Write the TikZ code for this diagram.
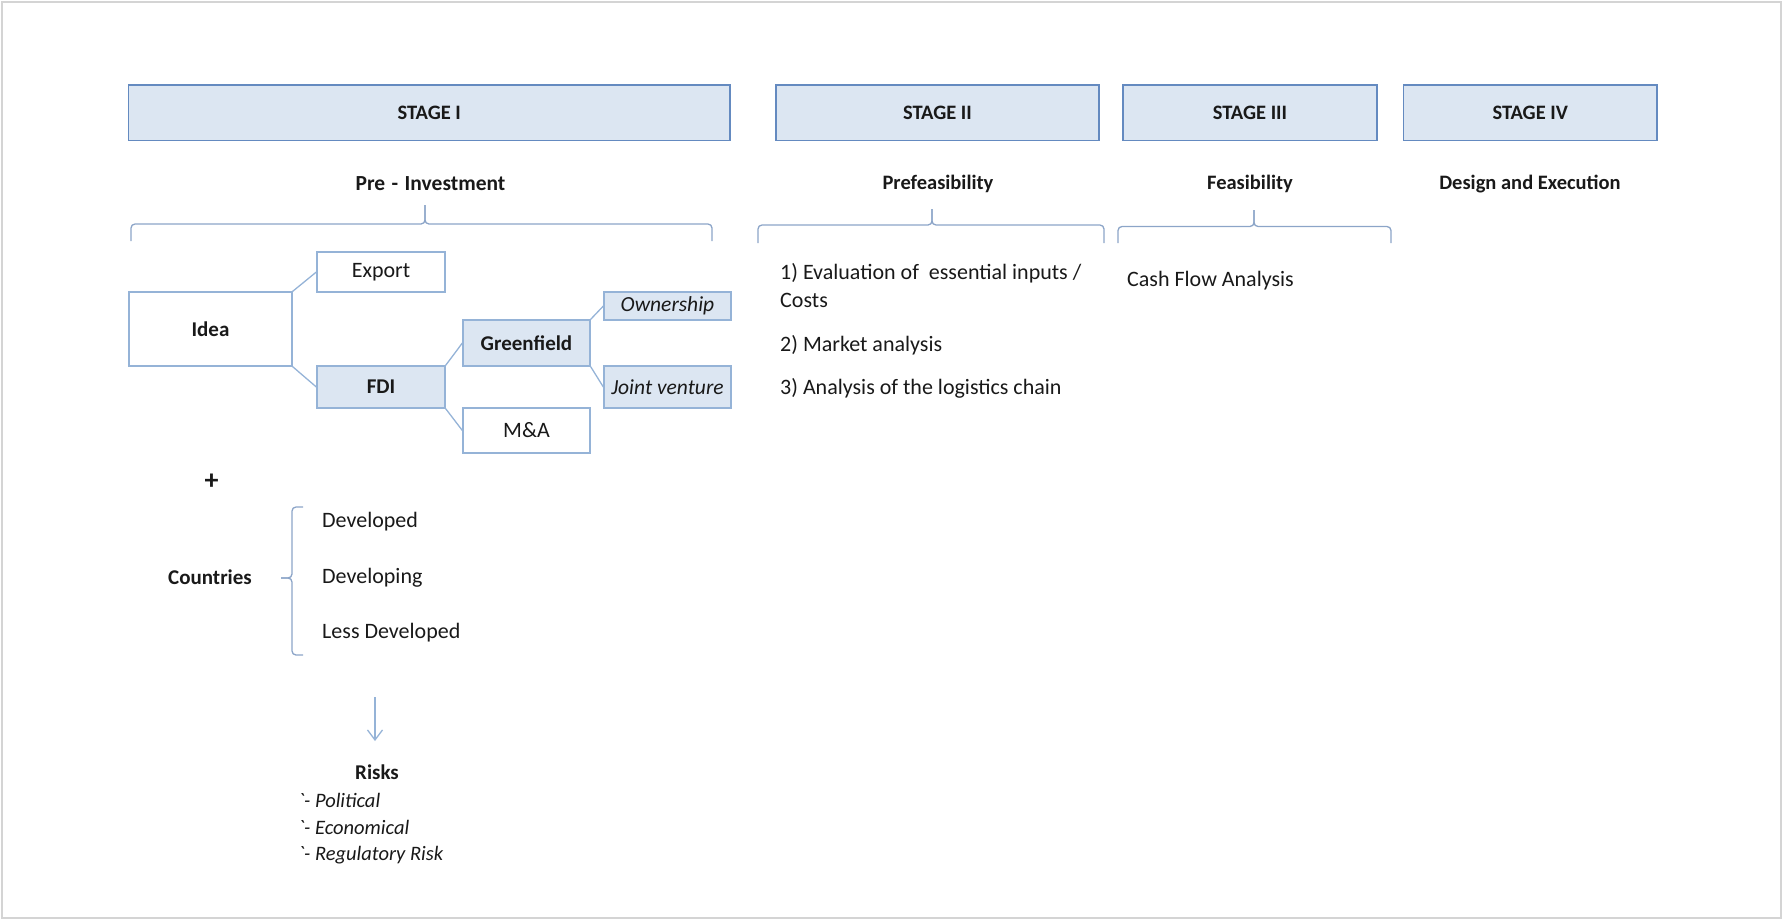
\documentclass[tikz,border=0pt]{standalone}
\usepackage{fontspec}
\setmainfont{Carlito}
\newfontfamily\rawfont{Carlito}[Ligatures=TeXOff]
\usetikzlibrary{arrows.meta}
\definecolor{stagefill}{RGB}{220,230,242}
\definecolor{stageline}{RGB}{100,138,192}
\definecolor{boxline}{RGB}{149,179,215}
\definecolor{bracecol}{RGB}{140,165,200}
\definecolor{framecol}{RGB}{212,212,212}
\definecolor{txt}{RGB}{25,25,25}
\begin{document}
\begin{tikzpicture}[x=1pt,y=-1pt,
  every node/.style={text=txt, font=\fontsize{22}{26}\selectfont, inner sep=0pt},
  stagebox/.style={draw=stageline, fill=stagefill, line width=1.6pt, font=\fontsize{20.5}{24}\selectfont\bfseries},
  plainbox/.style={draw=boxline, fill=white, line width=1.3pt},
  shadebox/.style={draw=boxline, fill=stagefill, line width=1.3pt},
  conn/.style={draw=boxline, line width=1.3pt},
  bracel/.style={draw=bracecol, line width=1.3pt, rounded corners=4pt},
  heading/.style={font=\fontsize{20.5}{24}\selectfont\bfseries},
  boldtxt/.style={font=\fontsize{21}{25}\selectfont\bfseries},
  risktxt/.style={anchor=west, font=\rawfont\fontsize{20.5}{24}\selectfont\itshape},
  ltext/.style={anchor=west},
]
\useasboundingbox (0,0) rectangle (1783,922);
\draw[framecol, line width=1.5pt] (2,2) rectangle (1781,918);

% stage boxes
\node[stagebox, minimum width=601.5pt, minimum height=55.5pt] (s1) at (429.25,112.75) {STAGE I};
\node[stagebox, minimum width=323pt, minimum height=55.5pt] (s2) at (937.5,112.75) {STAGE II};
\node[stagebox, minimum width=254pt, minimum height=55.5pt] (s3) at (1250,112.75) {STAGE III};
\node[stagebox, minimum width=253.5pt, minimum height=55.5pt] (s4) at (1530.25,112.75) {STAGE IV};

% headings
\node[heading, font=\fontsize{21.5}{25}\selectfont\bfseries] (h1) at (430.5,184) {Pre\hspace{0.3em}-\hspace{0.3em}Investment};
\node[heading] (h2) at (938,184) {Prefeasibility};
\node[heading] (h3) at (1250,184) {Feasibility};
\node[heading] (h4) at (1530,184) {Design and Execution};

% braces
\draw[bracel] (131,241) -- (131,224) -- (425,224) -- (425,205);
\draw[bracel] (712,241) -- (712,224) -- (425,224) -- (425,205);
\draw[bracel] (758,243) -- (758,225) -- (932,225) -- (932,209);
\draw[bracel] (1104,243) -- (1104,225) -- (932,225) -- (932,209);
\draw[bracel] (1118,243) -- (1118,226.5) -- (1254,226.5) -- (1254,210);
\draw[bracel] (1391,243) -- (1391,226.5) -- (1254,226.5) -- (1254,210);

% tree
\node[plainbox, boldtxt, minimum width=163pt, minimum height=74pt] (idea) at (210.5,329) {Idea};
\node[plainbox, minimum width=128pt, minimum height=40pt] (export) at (381,272) {Export};
\node[shadebox, boldtxt, minimum width=128pt, minimum height=42pt] (fdi) at (381,387) {FDI};
\node[shadebox, boldtxt, minimum width=127pt, minimum height=46pt] (green) at (526.5,343) {Greenfield};
\node[shadebox, minimum width=127pt, minimum height=28pt, font=\fontsize{21.5}{25}\selectfont\itshape] (own) at (667.5,306) {Ownership};
\node[shadebox, minimum width=127pt, minimum height=42pt, font=\fontsize{21.5}{25}\selectfont\itshape] (jv) at (667.5,387) {Joint venture};
\node[plainbox, minimum width=127pt, minimum height=45pt] (ma) at (526.5,430.5) {M\&A};

\draw[conn] (idea.north east) -- (export.west);
\draw[conn] (idea.south east) -- (fdi.west);
\draw[conn] (fdi.north east) -- (green.west);
\draw[conn] (fdi.south east) -- (ma.west);
\draw[conn] (green.north east) -- (own.west);
\draw[conn] (green.south east) -- (jv.west);

% countries
\node[font=\fontsize{28}{32}\selectfont\bfseries] (plus) at (211.5,482) {+};
\node[boldtxt] (countries) at (210,577) {Countries};
\draw[bracel] (303,507) -- (292,507) -- (292,578) -- (281,578);
\draw[bracel] (303,655) -- (292,655) -- (292,578) -- (281,578);
\node[ltext] (dev1) at (322,522) {Developed};
\node[ltext] (dev2) at (322,578) {Developing};
\node[ltext] (dev3) at (322,633) {Less Developed};

% arrow and risks
\coordinate (arrA) at (375,697);
\coordinate (arrB) at (375,741);
\draw[draw=boxline, line width=1.3pt, -{Straight Barb[length=10pt,width=15pt]}] (arrA) -- (arrB);
\node[boldtxt] (risks) at (377,772) {Risks};
\node[risktxt] (r1) at (298,800) {\symbol{96}- Political};
\node[risktxt] (r2) at (298,827) {\symbol{96}- Economical};
\node[risktxt] (r3) at (298,855) {\symbol{96}- Regulatory Risk};

% stage II / III texts
\node[ltext] (ev1) at (780,273) {1) Evaluation of \ essential inputs /};
\node[ltext] (ev2) at (780,300) {Costs};
\node[ltext] (mk) at (780,345) {2) Market analysis};
\node[ltext] (lg) at (780,388) {3) Analysis of the logistics chain};
\node[ltext] (cf) at (1127,281) {Cash Flow Analysis};
\end{tikzpicture}
\end{document}
